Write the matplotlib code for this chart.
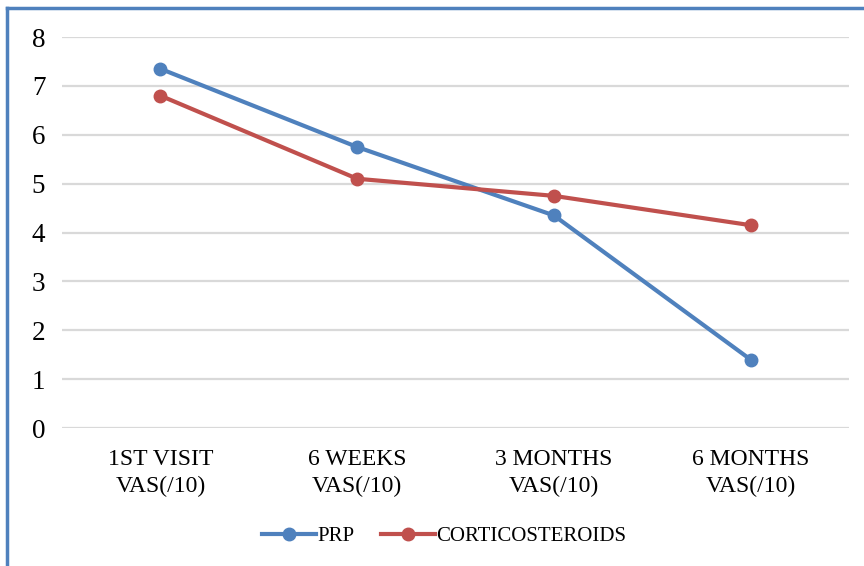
import matplotlib.pyplot as plt
from matplotlib.lines import Line2D

# Chart data
categories = ['1ST VISIT\nVAS(/10)', '6 WEEKS\nVAS(/10)', '3 MONTHS\nVAS(/10)', '6 MONTHS\nVAS(/10)']
prp = [7.35, 5.75, 4.35, 1.4]
corticosteroids = [6.8, 5.1, 4.75, 4.15]
y_ticks = [0, 1, 2, 3, 4, 5, 6, 7, 8]

blue = '#4F81BD'
red = '#C0504D'

plt.rcParams['font.family'] = ['Liberation Serif', 'DejaVu Serif']

fig = plt.figure(figsize=(8.64, 5.66), dpi=100)
ax = fig.add_axes([0.0718, 0.2438, 0.9108, 0.6908])

x = list(range(len(categories)))
ax.plot(x, prp, color=blue, linewidth=3, marker='o', markersize=9, label='PRP')
ax.plot(x, corticosteroids, color=red, linewidth=3, marker='o', markersize=9, label='CORTICOSTEROIDS')

ax.set_xlim(-0.5, 3.5)
ax.set_ylim(0, 8)
ax.set_yticks(y_ticks)
ax.set_yticklabels([str(t) for t in y_ticks], fontsize=19.5)
ax.set_xticks(x)
ax.set_xticklabels(categories, fontsize=17, linespacing=1.4)
ax.tick_params(axis='both', length=0)
ax.tick_params(axis='y', pad=12)
ax.tick_params(axis='x', pad=15)

ax.grid(axis='y', color='#D9D9D9', linewidth=1.6)
ax.set_axisbelow(True)
for s in ax.spines.values():
    s.set_visible(False)

# Legend below the plot
fig.legend(loc='center', bbox_to_anchor=(0.514, 0.052), ncol=2, frameon=False,
           fontsize=15, handlelength=2.6, handletextpad=0.05, columnspacing=1.3)

# Blue frame on the top and left edges
fig.add_artist(Line2D([7 / 864, 1.0], [1 - 8 / 566, 1 - 8 / 566], color=blue, linewidth=2.5,
                      transform=fig.transFigure))
fig.add_artist(Line2D([7 / 864, 7 / 864], [0, 1 - 8 / 566], color=blue, linewidth=2.5,
                      transform=fig.transFigure))

fig.savefig('out.png', dpi=100)
